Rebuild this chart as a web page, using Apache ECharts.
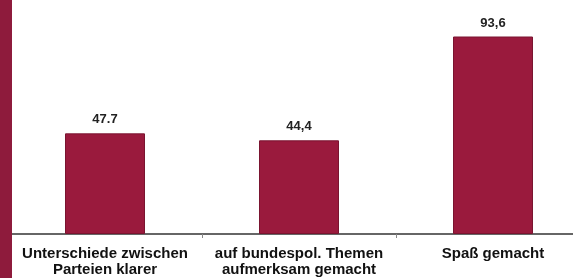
<!DOCTYPE html>
<html><head><meta charset="utf-8">
<script src="https://cdn.jsdelivr.net/npm/echarts@6/dist/echarts.min.js"></script>
<style>html,body{margin:0;padding:0;background:#fff;overflow:hidden;width:573px;height:278px;}#wrap{width:573px;height:278px;overflow:hidden;position:relative;}#c{width:590px;height:278px;position:absolute;left:0;top:0;}#stripe{position:absolute;left:0;top:0;width:12px;height:278px;background:#8e1b3c;z-index:10;}</style>
</head><body>
<div id="wrap"><div id="c"></div><div id="stripe"></div></div>
<script>
const categories = ["Unterschiede zwischen\nParteien klarer", "auf bundespol. Themen\naufmerksam gemacht", "Spaß gemacht"];
const values = [47.7, 44.4, 93.6];
const valueLabels = ["47.7", "44,4", "93,6"];

const chart = echarts.init(document.getElementById('c'));
chart.setOption({
  animation: false,
  grid: { left: 8, top: 23, bottom: 44, right: 0, containLabel: false },
  xAxis: {
    type: 'category', data: categories,
    axisLine: { lineStyle: { color: '#666', width: 2 } },
    axisTick: { show: true, length: 4, lineStyle: { color: '#888' } },
    axisLabel: { color: '#111', fontFamily: 'Liberation Sans, Arial', fontWeight: 'bold', fontSize: 15, lineHeight: 16, margin: 12, interval: 0 }
  },
  yAxis: { type: 'value', min: 0, max: 100, show: false, splitLine: { show: false } },
  series: [{
    type: 'bar', data: values, barWidth: 80,
    itemStyle: { color: '#9a1a3d', borderColor: '#7a1430', borderWidth: 1 },
    label: { show: true, position: 'top', distance: 7, color: '#222', fontFamily: 'Liberation Sans, Arial', fontWeight: 'bold', fontSize: 13,
      formatter: p => valueLabels[p.dataIndex] }
  }]
});
</script>
</body></html>
